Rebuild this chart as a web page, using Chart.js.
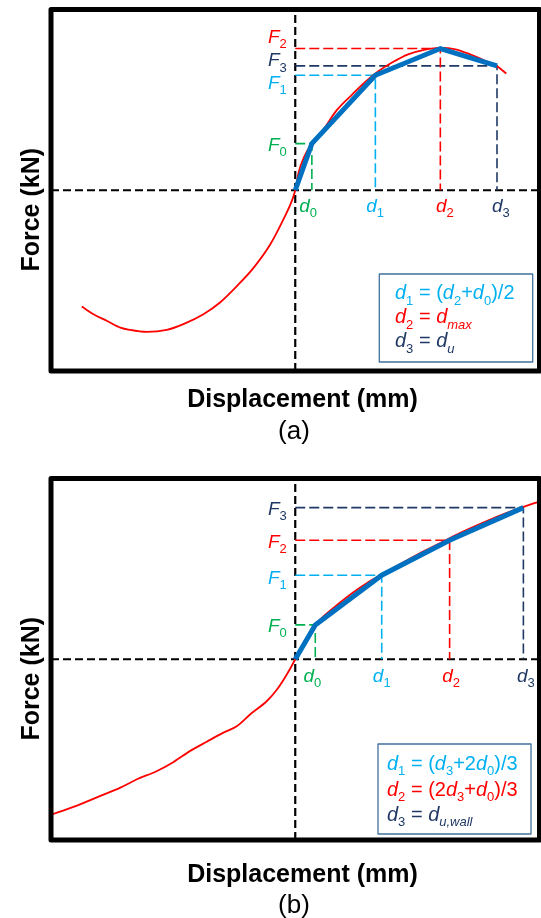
<!DOCTYPE html>
<html>
<head>
<meta charset="utf-8">
<script src="https://cdn.jsdelivr.net/npm/chart.js@4/dist/chart.umd.min.js"></script>
<style>
body{margin:0;background:#fff;}
canvas{display:block;}
</style>
</head>
<body>
<canvas id="chartA" width="541" height="459"></canvas>
<canvas id="chartB" width="541" height="459"></canvas>
<script>
// (a) measured force-displacement curve, displacement in mm, force in kN
var curveA_x = [-43.7,-41.3,-38.5,-35.8,-33.8,-30.4,-26.3,-22.9,-18.8,-15.4,-11.9,-8.5,-5.1,-2.4,-0.7,0,
                0.7,1.8,3.3,5.5,8.5,11.7,14.5,17.0,19.9,23.1,26.4,29.7,32.8,35.8,38.9,41.3,43.2];
var curveA_y = [-64.3,-68.6,-72.3,-76.0,-77.3,-78.4,-77.3,-74.1,-68.6,-62.1,-52.9,-42.8,-29.9,-16.0,-5.9,0,
                10.0,18.3,25.4,32.6,44.3,53.1,60.3,65.8,70.8,75.2,77.7,78.8,78.0,75.2,71.6,68.6,64.6];
// (a) idealised envelope: origin, then d0..d3 / F0..F3
var envA_d = [0, 3.4, 16.4, 29.7, 41.3];
var envA_F = [0, 25.8, 63.6, 78.4, 68.8];

// (b) measured curve
var curveB_x = [-50,-45.4,-39.9,-35.8,-32.4,-28.3,-24.9,-21.5,-18.1,-14.7,-11.9,-9.2,-5.8,-3.7,-1.7,0,
                1.0,2.7,4.1,6.1,8.8,11.7,14.7,17.8,21.5,25.6,29.7,33.8,37.9,42.0,46.7,49.1,50];
var curveB_y = [-86.0,-81.7,-75.6,-71.0,-66.4,-61.8,-56.8,-50.7,-45.6,-40.6,-36.9,-30.4,-23.1,-16.6,-8.3,0,
                5.7,13.4,19.0,24.5,30.6,36.7,42.2,46.9,52.7,58.8,64.3,69.9,74.9,79.6,84.3,86.5,87.2];
var envB_d = [0, 4.1, 17.7, 31.6, 46.7];
var envB_F = [0, 19.0, 46.5, 65.8, 83.9];

var xRange = [-50, 50];
var yRange = [-100, 100];

// point labels and legend text ('*' italic, '_' subscript)
var fLabels = ['*F|_0', '*F|_1', '*F|_2', '*F|_3'];
var dLabels = ['*d|_0', '*d|_1', '*d|_2', '*d|_3'];
var legendA = ['*d|_1| = (|*d|_2|+|*d|_0|)/2', '*d|_2| = |*d|_*max', '*d|_3| = |*d|_*u'];
var legendB = ['*d|_1| = (|*d|_3|+2|*d|_0|)/3', '*d|_2| = (2|*d|_3|+|*d|_0|)/3', '*d|_3| = |*d|_*u,wall'];

var pointColors = ['#00B050', '#00B0F0', '#FF0000', '#1F3864'];
var FONT = '"Liberation Sans", Arial, sans-serif';

function xy(xs, ys) {
    return xs.map(function (x, i) { return {x: x, y: ys[i]}; });
}

function drawRuns(ctx, runs, x, y, size, color, align) {
    var parts = runs.split('|').map(function (p) {
        var sub = p.charAt(0) === '_';
        if (sub) p = p.slice(1);
        var it = p.charAt(0) === '*';
        if (it) p = p.slice(1);
        return {t: p, sub: sub, it: it};
    });
    function font(p) {
        return (p.it ? 'italic ' : '') + (p.sub ? Math.round(size * 0.66) : size) + 'px ' + FONT;
    }
    var w = 0;
    parts.forEach(function (p) { ctx.font = font(p); p.w = ctx.measureText(p.t).width; w += p.w; });
    if (align === 'right') x -= w;
    else if (align === 'center') x -= w / 2;
    ctx.fillStyle = color;
    ctx.textAlign = 'left';
    ctx.textBaseline = 'alphabetic';
    parts.forEach(function (p) {
        ctx.font = font(p);
        ctx.fillText(p.t, x, p.sub ? y + size * 0.27 : y);
        x += p.w;
    });
}

function makeChart(id, cfg) {
    var datasets = [];
    // thick idealised envelope on top
    datasets.push({data: xy(cfg.envD, cfg.envF), borderColor: '#0070C0', borderWidth: 5});
    datasets.push({data: xy(cfg.curveX, cfg.curveY), borderColor: '#FF0000', borderWidth: 1.8,
                   cubicInterpolationMode: 'monotone'});
    for (var i = 1; i < cfg.envD.length; i++) {
        datasets.push({
            data: [{x: 0, y: cfg.envF[i]}, {x: cfg.envD[i], y: cfg.envF[i]}, {x: cfg.envD[i], y: 0}],
            borderColor: pointColors[i - 1], borderWidth: 1.6, borderDash: [10, 4]
        });
    }
    datasets.push({data: [{x: xRange[0], y: 0}, {x: xRange[1], y: 0}], borderColor: '#000', borderWidth: 2.2, borderDash: [8, 4]});
    datasets.push({data: [{x: 0, y: yRange[0]}, {x: 0, y: yRange[1]}], borderColor: '#000', borderWidth: 2.2, borderDash: [8, 4]});
    datasets.forEach(function (d) { d.showLine = true; d.pointRadius = 0; d.fill = false; });

    var textPlugin = {
        id: 'annot',
        afterDatasetsDraw: function (chart) {
            var ctx = chart.ctx, a = chart.chartArea;
            var sx = chart.scales.x, sy = chart.scales.y;
            ctx.save();
            ctx.strokeStyle = '#000';
            ctx.lineWidth = 5;
            ctx.lineJoin = 'round';
            ctx.strokeRect(a.left, a.top, a.right - a.left, a.bottom - a.top);

            var y0 = sy.getPixelForValue(0);
            for (var i = 1; i < cfg.envD.length; i++) {
                var py = sy.getPixelForValue(cfg.envF[i]);
                var px = sx.getPixelForValue(cfg.envD[i]);
                drawRuns(ctx, fLabels[i - 1], sx.getPixelForValue(0) - 8.5, py + cfg.fDy[i - 1], 19, pointColors[i - 1], 'right');
                drawRuns(ctx, dLabels[i - 1], px + cfg.dDx[i - 1], y0 + cfg.dDy, 19, pointColors[i - 1], 'center');
            }

            var b = cfg.box;
            ctx.strokeStyle = '#41719C';
            ctx.lineWidth = 1.3;
            ctx.strokeRect(b[0], b[1], b[2] - b[0], b[3] - b[1]);
            cfg.legend.forEach(function (line, k) {
                drawRuns(ctx, line, cfg.legendX, cfg.legendY[k], 20, pointColors[k + 1], 'left');
            });

            ctx.fillStyle = '#000';
            ctx.font = 'bold 25px ' + FONT;
            ctx.textAlign = 'center';
            ctx.textBaseline = 'alphabetic';
            ctx.fillText('Displacement (mm)', 302.5, cfg.xTitleY);
            ctx.save();
            ctx.translate(38.5, (a.top + a.bottom) / 2 + 19.5);
            ctx.rotate(-Math.PI / 2);
            ctx.fillText('Force (kN)', 0, 0);
            ctx.restore();
            ctx.font = '26px ' + FONT;
            ctx.fillText(cfg.tag, 294, cfg.tagY);
            ctx.restore();
        }
    };

    return new Chart(document.getElementById(id), {
        type: 'scatter',
        data: {datasets: datasets},
        options: {
            responsive: false,
            animation: false,
            devicePixelRatio: 1,
            layout: {padding: cfg.padding},
            plugins: {legend: {display: false}, tooltip: {enabled: false}},
            scales: {
                x: {type: 'linear', display: false, min: xRange[0], max: xRange[1]},
                y: {type: 'linear', display: false, min: yRange[0], max: yRange[1]}
            }
        },
        plugins: [textPlugin]
    });
}

makeChart('chartA', {
    curveX: curveA_x, curveY: curveA_y, envD: envA_d, envF: envA_F,
    padding: {left: 51, top: 9.5, right: 1.5, bottom: 88},
    fDy: [7, 14, -5.3, 0.6], dDx: [-3.7, -0.3, 4.5, 3.8], dDy: 21.7,
    box: [379.3, 274, 532.7, 362], legend: legendA, legendX: 395, legendY: [299.3, 323.3, 347.3],
    xTitleY: 406.7, tag: '(a)', tagY: 439, 
});

makeChart('chartB', {
    curveX: curveB_x, curveY: curveB_y, envD: envB_d, envF: envB_F,
    padding: {left: 51, top: 19.5, right: 1.5, bottom: 78},
    fDy: [7, 8.4, 8, 7.3], dDx: [-3, 0, 1.5, 2.5], dDy: 22.4,
    box: [378, 285, 531, 375], legend: legendB, legendX: 387, legendY: [311, 337, 362],
    xTitleY: 423, tag: '(b)', tagY: 453.5
});
</script>
</body>
</html>
